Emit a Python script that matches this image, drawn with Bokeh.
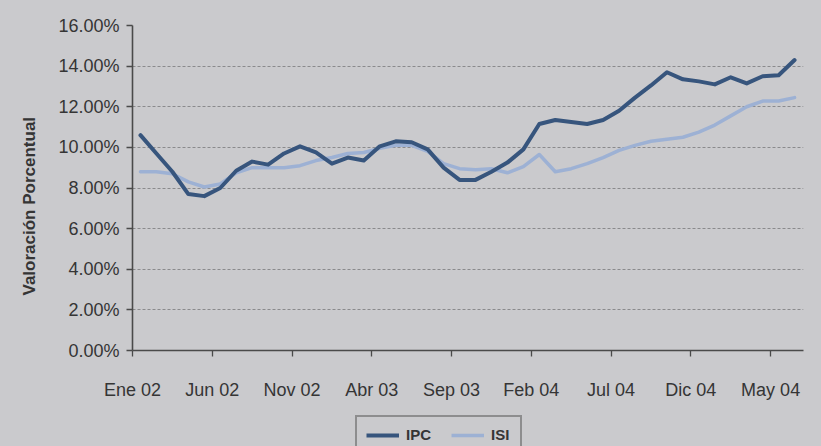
from bokeh.plotting import figure
from bokeh.layouts import column
from bokeh.models import (ColumnDataSource, FixedTicker, PrintfTickFormatter,
                          Legend, LegendItem, Title, Range1d)
from bokeh.embed import file_html
from bokeh.resources import INLINE

# Monthly values, Ene 02 .. Jun 05 (percent)
ipc = [10.6, 9.7, 8.8, 7.7, 7.6, 8.0, 8.85, 9.3, 9.15, 9.7,
       10.05, 9.75, 9.2, 9.5, 9.35, 10.05, 10.3, 10.25, 9.9, 9.0,
       8.4, 8.4, 8.8, 9.25, 9.9, 11.15, 11.35, 11.25, 11.15, 11.35,
       11.8, 12.45, 13.05, 13.7, 13.35, 13.25, 13.1, 13.45, 13.15, 13.5,
       13.55, 14.3]
isi = [8.8, 8.8, 8.7, 8.3, 8.05, 8.2, 8.75, 9.0, 9.0, 9.0,
       9.1, 9.35, 9.5, 9.7, 9.75, 9.95, 10.1, 10.1, 9.8, 9.2,
       8.95, 8.9, 8.95, 8.75, 9.05, 9.65, 8.8, 8.95, 9.2, 9.5,
       9.85, 10.1, 10.3, 10.4, 10.5, 10.75, 11.1, 11.55, 12.0, 12.28,
       12.28, 12.45]
tick_labels = ["Ene 02", "Jun 02", "Nov 02", "Abr 03", "Sep 03",
               "Feb 04", "Jul 04", "Dic 04", "May 04"]
tick_step = 5
y_ticks = [0, 2, 4, 6, 8, 10, 12, 14, 16]

n = len(ipc)
x = [i + 0.5 for i in range(n)]          # month category centres
tick_pos = [tick_step * k for k in range(len(tick_labels))]

BG = "#cacacd"
TXT = "#353535"
FONT = "Liberation Sans"
IPC_COLOR = "#37557d"
ISI_COLOR = "#9db1d4"

src = ColumnDataSource(dict(x=x, ipc=ipc, isi=isi))

p = figure(width=821, height=404, output_backend="svg", toolbar_location=None,
           x_range=Range1d(0, 42.06), y_range=Range1d(0, 16),
           min_border_left=130, min_border_right=18,
           min_border_top=25, min_border_bottom=54)
p.background_fill_color = BG
p.border_fill_color = BG
p.outline_line_color = None

r_isi = p.line("x", "isi", source=src, line_color=ISI_COLOR, line_width=3.5,
               line_join="round", line_cap="round")
r_ipc = p.line("x", "ipc", source=src, line_color=IPC_COLOR, line_width=4,
               line_join="round", line_cap="round")

# axes
p.xaxis.ticker = FixedTicker(ticks=tick_pos)
p.xaxis.major_label_overrides = {t: lab for t, lab in zip(tick_pos, tick_labels)}
p.yaxis.ticker = FixedTicker(ticks=y_ticks)
p.yaxis.formatter = PrintfTickFormatter(format="%.2f%%")
for ax in (p.xaxis[0], p.yaxis[0]):
    ax.axis_line_color = "#4a4a4a"
    ax.axis_line_width = 1.6
    ax.major_tick_line_color = "#4a4a4a"
    ax.major_tick_line_width = 1.3
    ax.major_tick_in = 0
    ax.major_tick_out = 6
    ax.minor_tick_line_color = None
    ax.major_label_text_font = FONT
    ax.major_label_text_font_size = "18px"
    ax.major_label_text_color = TXT
p.xaxis.major_label_standoff = 23
p.yaxis.major_label_standoff = 7

# grid
p.xgrid.grid_line_color = None
p.ygrid.grid_line_color = "#8a8a8c"
p.ygrid.grid_line_dash = "3 2"
p.ygrid.grid_line_width = 1

# y axis title, placed in the left panel (starts 55px above the x axis)
p.add_layout(Title(text="Valoración Porcentual", align="left", offset=55,
                   standoff=34, text_font=FONT, text_font_size="17px",
                   text_font_style="bold", text_color=TXT), "left")

# legend strip under the chart
lg = figure(width=821, height=42, output_backend="svg", toolbar_location=None,
            x_range=Range1d(0, 10), y_range=Range1d(0, 10),
            min_border=0, x_axis_type=None, y_axis_type=None)
lg.background_fill_color = BG
lg.border_fill_color = BG
lg.outline_line_color = None
lg.xgrid.grid_line_color = None
lg.ygrid.grid_line_color = None
# off-range stand-ins that carry the series styles for the legend keys
k_ipc = lg.line(x=[-5, -4], y=[-5, -5], line_color=IPC_COLOR, line_width=4)
k_isi = lg.line(x=[-5, -4], y=[-5, -5], line_color=ISI_COLOR, line_width=3.5)
legend = Legend(items=[LegendItem(label="IPC", renderers=[k_ipc]),
                       LegendItem(label="ISI", renderers=[k_isi])],
                orientation="horizontal", location=(223, -8),
                glyph_width=33, glyph_height=16, label_standoff=7,
                spacing=20, padding=9, margin=0,
                label_text_font=FONT, label_text_font_size="15px",
                label_text_font_style="bold", label_text_color=TXT,
                border_line_color="#505050", border_line_width=2,
                background_fill_alpha=0)
lg.add_layout(legend, "center")

page = column(p, lg, spacing=0)
page.background = BG
open("out.html", "w").write(file_html(page, INLINE))
